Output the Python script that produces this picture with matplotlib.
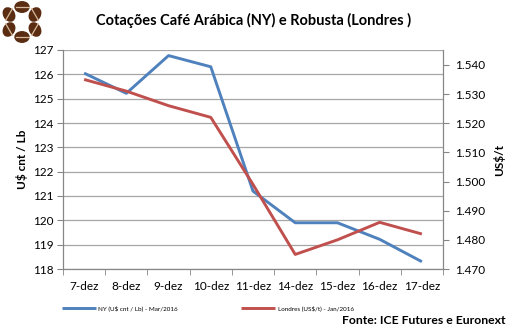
import matplotlib
matplotlib.use('Agg')
import matplotlib.pyplot as plt
from matplotlib.patches import Ellipse
from matplotlib.ticker import FuncFormatter, MultipleLocator
import numpy as np

plt.rcParams['font.family'] = ['Lato', 'DejaVu Sans']

dias = ['7-dez', '8-dez', '9-dez', '10-dez', '11-dez', '14-dez', '15-dez', '16-dez', '17-dez']
ny = [126.05, 125.22, 126.77, 126.31, 121.2, 119.9, 119.9, 119.22, 118.3]
londres = [1535, 1531, 1526, 1522, 1499, 1475, 1480, 1486, 1482]

azul = '#4F81BD'
verm = '#C0504D'
cinza = '#A6A6A6'

fig = plt.figure(figsize=(5.11, 3.35), dpi=100)
ax = fig.add_axes([63/511, 1-269/335, 380/511, 219/335])
ax2 = ax.twinx()

x = np.arange(len(dias))
l1, = ax.plot(x, ny, color=azul, lw=2.1, solid_capstyle='butt', zorder=3)
l2, = ax2.plot(x, londres, color=verm, lw=2.1, solid_capstyle='butt', zorder=3)

ax.set_xlim(-0.5, len(dias) - 0.5)
ax.set_ylim(118, 127)
ax.yaxis.set_major_locator(MultipleLocator(1))
ax2.set_ylim(1470, 1545.1)
ax2.set_yticks(np.arange(1470, 1541, 10))
ax2.yaxis.set_major_formatter(FuncFormatter(lambda v, p: '1.%03d' % (v - 1000)))

ax.grid(axis='y', color=cinza, lw=0.9)
ax.set_axisbelow(True)
ax.set_xticks(x)
ax.set_xticklabels(dias)
ax.set_xticks(np.arange(-0.5, len(dias), 1), minor=True)
ax.tick_params(axis='x', which='major', length=0, pad=9, labelsize=8.5)
ax.tick_params(axis='x', which='minor', length=4, color='#868686', direction='out')
ax.tick_params(axis='y', length=4, color='#868686', labelsize=8.5, pad=3)
ax2.tick_params(axis='y', length=4, color='#868686', labelsize=8.5, pad=5)

for a in (ax, ax2):
    a.spines['top'].set_visible(False)
    for s in ('left', 'right', 'bottom'):
        a.spines[s].set_color('#868686')

ax.set_ylabel('U$ cnt / Lb', fontweight='bold', fontsize=8.5, labelpad=3)
ax2.set_ylabel('US$/t', fontweight='bold', fontsize=8.5, labelpad=5)

fig.text(254/511, 1-20/335, 'Cotações Café Arábica (NY) e Robusta (Londres )',
         ha='center', va='center', fontsize=10.5, fontweight='bold')

fig.legend([l1, l2], ['NY (U$ cnt / Lb) - Mar/2016', 'Londres (US$/t) - Jan/2016'],
           loc='center left', bbox_to_anchor=(56/511, 1-308/335), ncol=2,
           frameon=False, fontsize=4.5, handlelength=5.5, handletextpad=0.4,
           columnspacing=10)

fig.text(505/511, 1-321/335, 'Fonte: ICE Futures e Euronext', ha='right', va='center',
         fontsize=8.8, fontweight='bold')

# logo: grãos de café
lg = fig.add_axes([0, 1-46/335, 46/511, 46/335])
lg.set_xlim(0, 46)
lg.set_ylim(46, 0)
lg.axis('off')
for k in range(6):
    ang = np.deg2rad(-90 + 60 * k)
    cx = 22 + 15 * np.cos(ang)
    cy = 22 + 15 * np.sin(ang)
    rot = -np.rad2deg(ang) + 90
    lg.add_patch(Ellipse((cx, cy), 14, 10.5, angle=rot, color='#5A2D12'))
    dx = 6.5 * np.cos(np.deg2rad(-rot))
    dy = 6.5 * np.sin(np.deg2rad(-rot))
    lg.plot([cx - dx, cx + dx], [cy - dy, cy + dy], color='#D9B99B', lw=0.9)

fig.savefig('out.png', dpi=100)
